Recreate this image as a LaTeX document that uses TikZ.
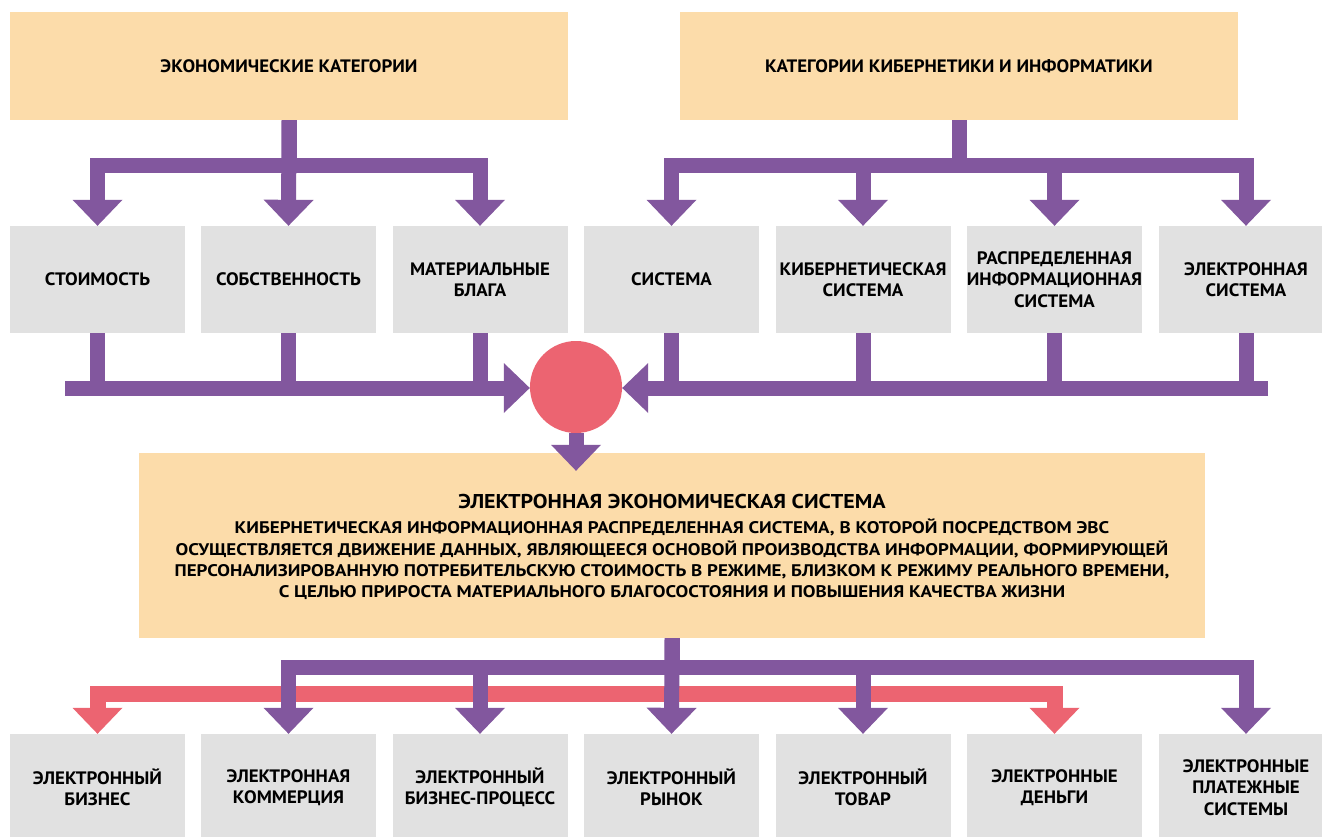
\documentclass[tikz,border=0pt]{standalone}
\usepackage{fontspec}
\setmainfont{PT Sans}[FakeStretch=1.05]
\newfontfamily\bodyfont{PT Sans}[FakeStretch=1.13]
\newfontfamily\titlefont{PT Sans}[FakeStretch=1.10]
\usetikzlibrary{arrows.meta,calc}
\definecolor{pur}{RGB}{130,87,158}
\definecolor{rd}{RGB}{236,100,113}
\definecolor{org}{RGB}{252,220,170}
\definecolor{gry}{RGB}{225,225,225}
\begin{document}
\begin{tikzpicture}[x=1pt,y=-1pt,
  catbox/.style={fill=org, minimum width=558pt, minimum height=108pt, inner sep=0pt, align=center,
    font=\bfseries\fontsize{18}{21.5}\selectfont},
  itembox/.style={fill=gry, minimum width=175pt, minimum height=107pt, inner sep=0pt, align=center,
    font=\bfseries\fontsize{18}{21.5}\selectfont},
  mainbox/.style={fill=org, minimum width=1066pt, minimum height=185pt, inner sep=0pt},
  pline/.style={draw=pur, line width=15pt, line join=miter},
  parrow/.style={pline, -{Triangle[width=50pt,length=26pt,line width=0pt]}},
  rarrow/.style={draw=rd, line width=16pt, line join=miter,
    {Triangle[width=50pt,length=26pt,line width=0pt]}-{Triangle[width=50pt,length=26pt,line width=0pt]}},
]
\path[use as bounding box, fill=white] (0,0) rectangle (1322,837);
\clip (0,0) rectangle (1322,837);

% top category boxes
\node[catbox] (ec) at (289,66) {ЭКОНОМИЧЕСКИЕ КАТЕГОРИИ};
\node[catbox] (cy) at (959,66) {КАТЕГОРИИ КИБЕРНЕТИКИ И ИНФОРМАТИКИ};

% second row
\node[itembox] (b1) at (97.5,279.5) {СТОИМОСТЬ};
\node[itembox] (b2) at (288.5,279.5) {СОБСТВЕННОСТЬ};
\node[itembox] (b3) at (480,279.5) {МАТЕРИАЛЬНЫЕ\\БЛАГА};
\node[itembox] (b4) at (671.5,279.5) {СИСТЕМА};
\node[itembox] (b5) at (863,279.5) {КИБЕРНЕТИЧЕСКАЯ\\СИСТЕМА};
\node[itembox] (b6) at (1054.5,279.5) {РАСПРЕДЕЛЕННАЯ\\ИНФОРМАЦИОННАЯ\\СИСТЕМА};
\node[itembox] (b7) at (1246,279.5) {ЭЛЕКТРОННАЯ\\СИСТЕМА};

% circle
\node[circle, fill=rd, minimum size=92pt, inner sep=0pt] (circ) at (576,387) {};

% main box
\node[mainbox] (main) at (672,545.5) {};
\node[font=\titlefont\bfseries\fontsize{20}{24}\selectfont] (title) at (672,501) {ЭЛЕКТРОННАЯ ЭКОНОМИЧЕСКАЯ СИСТЕМА};
\node[font=\bodyfont\bfseries\fontsize{16.8}{21.2}\selectfont, align=center] (desc) at (672,559.5)
 {КИБЕРНЕТИЧЕСКАЯ ИНФОРМАЦИОННАЯ РАСПРЕДЕЛЕННАЯ СИСТЕМА, В КОТОРОЙ ПОСРЕДСТВОМ ЭВС\\
  ОСУЩЕСТВЛЯЕТСЯ ДВИЖЕНИЕ ДАННЫХ, ЯВЛЯЮЩЕЕСЯ ОСНОВОЙ ПРОИЗВОДСТВА ИНФОРМАЦИИ, ФОРМИРУЮЩЕЙ\\
  ПЕРСОНАЛИЗИРОВАННУЮ ПОТРЕБИТЕЛЬСКУЮ СТОИМОСТЬ В РЕЖИМЕ, БЛИЗКОМ К РЕЖИМУ РЕАЛЬНОГО ВРЕМЕНИ,\\
  С ЦЕЛЬЮ ПРИРОСТА МАТЕРИАЛЬНОГО БЛАГОСОСТОЯНИЯ И ПОВЫШЕНИЯ КАЧЕСТВА ЖИЗНИ};

% bottom row
\node[itembox] (c1) at (97.5,787.5) {ЭЛЕКТРОННЫЙ\\БИЗНЕС};
\node[itembox] (c2) at (288.5,787.5) {ЭЛЕКТРОННАЯ\\КОММЕРЦИЯ};
\node[itembox] (c3) at (480,787.5) {ЭЛЕКТРОННЫЙ\\БИЗНЕС-ПРОЦЕСС};
\node[itembox] (c4) at (671.5,787.5) {ЭЛЕКТРОННЫЙ\\РЫНОК};
\node[itembox] (c5) at (863,787.5) {ЭЛЕКТРОННЫЙ\\ТОВАР};
\node[itembox] (c6) at (1054.5,787.5) {ЭЛЕКТРОННЫЕ\\ДЕНЬГИ};
\node[itembox] (c7) at (1246,787.5) {ЭЛЕКТРОННЫЕ\\ПЛАТЕЖНЫЕ\\СИСТЕМЫ};

% top-left connectors
\coordinate (tl) at ($(ec.south)+(0,45)$);
\draw[pline] (ec.south) -- (tl);
\draw[parrow] (tl) -| (b1.north);
\draw[parrow] (ec.south) -- (b2.north);
\draw[parrow] (tl) -| (b3.north);

% top-right connectors
\coordinate (tr) at ($(cy.south)+(0,45)$);
\draw[pline] (cy.south) -- (tr);
\draw[parrow] (tr) -| (b4.north);
\draw[parrow] (tr) -| (b5.north);
\draw[parrow] (tr) -| (b6.north);
\draw[parrow] (tr) -| (b7.north);

% row 2 to circle
\coordinate (lbar) at (65,388);
\coordinate (rbar) at (1268,388);
\foreach \b in {b1,b2,b3,b4,b5,b6,b7}{
  \draw[pline] (\b.south) -- (\b.south |- lbar);
}
\draw[parrow] (lbar) -- (lbar -| circ.west);
\draw[parrow] (rbar) -- (rbar -| circ.east);

% circle to main box
\coordinate (mtip) at ($(main.north -| circ.south)+(0,18)$);
\draw[parrow] (circ.south) -- (mtip);

% bottom connectors
\coordinate (rtop) at ($(c6.north)+(0,-40)$);
\draw[rarrow] (c1.north) |- (rtop) -- (c6.north);
\coordinate (bb) at ($(main.south)+(0,29.5)$);
\draw[pline] (main.south) -- (bb);
\draw[parrow] (bb) -| (c2.north);
\draw[parrow] (bb) -| (c3.north);
\draw[parrow] (main.south) -- (c4.north);
\draw[parrow] (bb) -| (c5.north);
\draw[parrow] (bb) -| (c7.north);
\end{tikzpicture}
\end{document}
